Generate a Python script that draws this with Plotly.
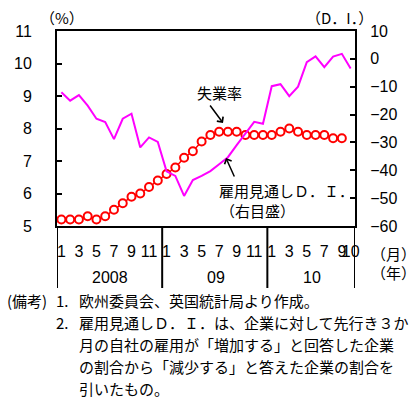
import plotly.graph_objects as go

# ---------------- data ----------------
months_index = list(range(34))  # Jan 2008 .. Oct 2010
month_tick_vals = [0, 2, 4, 6, 8, 10, 12, 14, 16, 18, 20, 22, 24, 26, 28, 30, 32, 33]
month_tick_text = ["1", "3", "5", "7", "9", "11",
                   "1", "3", "5", "7", "9", "11",
                   "1", "3", "5", "7", "9", "10"]
year_labels = ["2008", "09", "10"]

unemployment = [5.2, 5.2, 5.2, 5.3, 5.2, 5.3, 5.5, 5.7, 5.9, 6.0, 6.2, 6.4,
                6.6, 6.8, 7.1, 7.3, 7.6, 7.8, 7.9, 7.9, 7.9, 7.8, 7.8, 7.8,
                7.8, 7.9, 8.0, 7.9, 7.8, 7.8, 7.8, 7.7, 7.7]
employment_di = [-12.0, -15.0, -13.0, -16.8, -21.5, -22.7, -28.8, -21.5, -19.7, -31.8, -28.2, -29.8,
                 -40.4, -42.0, -49.2, -43.5, -42.0, -40.3, -37.8, -35.3, -31.0, -26.6, -22.6, -23.3,
                 -9.8, -9.1, -13.4, -10.0, -1.2, 0.9, -3.0, 0.8, 1.8, -3.5]

notes = [
    ("(備考)", "1.", "欧州委員会、英国統計局より作成。"),
    ("", "2.", "雇用見通しＤ．Ｉ．は、企業に対して先行き３か"),
    ("", "", "月の自社の雇用が「増加する」と回答した企業"),
    ("", "", "の割合から「減少する」と答えた企業の割合を"),
    ("", "", "引いたもの。"),
]

# ---------------- layout helpers ----------------
W, H = 417, 404
PL, PR, PT, PB = 57, 355, 31, 226
JP = "Noto Sans CJK JP"
NUM = "Liberation Sans, Arial, sans-serif"


def px(x):
    return (x - PL) / (PR - PL)


def py(y):
    return (PB - y) / (PB - PT)


fig = go.Figure()

fig.add_trace(go.Scatter(
    x=months_index[:len(unemployment)], y=unemployment, mode="lines+markers",
    line=dict(color="#FF0000", width=1.5),
    marker=dict(symbol="circle", size=8, color="white",
                line=dict(color="#FF0000", width=2)),
    yaxis="y", showlegend=False, hoverinfo="skip"))

fig.add_trace(go.Scatter(
    x=months_index, y=employment_di, mode="lines",
    line=dict(color="#FF00FF", width=2),
    yaxis="y2", showlegend=False, hoverinfo="skip"))

fig.update_layout(
    width=W, height=H,
    margin=dict(l=PL, r=W - PR, t=PT, b=H - PB),
    paper_bgcolor="white", plot_bgcolor="white",
    xaxis=dict(range=[-0.5, 33.5], showgrid=False, zeroline=False,
               showline=True, linecolor="black", linewidth=2, mirror=True,
               tickmode="array", tickvals=month_tick_vals, ticktext=month_tick_text,
               ticks="", tickangle=0, ticklabelstandoff=10,
               tickfont=dict(family=NUM, size=16, color="black")),
    yaxis=dict(range=[5, 11], dtick=1, showgrid=False, zeroline=False,
               showline=True, linecolor="black", linewidth=2,
               ticks="inside", ticklen=5, tickwidth=2, tickcolor="black",
               ticklabelstandoff=20,
               tickfont=dict(family=NUM, size=16, color="black")),
    yaxis2=dict(range=[-60, 10], dtick=10, overlaying="y", side="right",
                showgrid=False, zeroline=False,
                showline=True, linecolor="black", linewidth=2,
                ticks="inside", ticklen=5, tickwidth=2, tickcolor="black",
                ticklabelstandoff=10,
                tickfont=dict(family=NUM, size=16, color="black")),
)

# vertical divider lines in the x-axis label area
for xv in [-0.5, 11.5, 23.5, 33.5]:
    fig.add_shape(type="line", xref="x", yref="paper", x0=xv, x1=xv,
                  y0=0, y1=py(288), line=dict(color="black", width=2))

anns = []
# year labels
for lbl, cx in zip(year_labels, [110, 215.5, 311.5]):
    anns.append(dict(text=lbl, x=px(cx), y=py(277), font=dict(family=NUM, size=16)))

anns += [
    dict(text="（%）", x=px(62), y=py(17), font=dict(family=JP, size=15)),
    dict(text="（D．I．）", x=px(339), y=py(17), font=dict(family=JP, size=15)),
    dict(text="（月）", x=px(393), y=py(253), font=dict(family=JP, size=15)),
    dict(text="（年）", x=px(393), y=py(272), font=dict(family=JP, size=15)),
    dict(text="失業率", x=px(219), y=py(92), font=dict(family=JP, size=15)),
    dict(text="雇用見通しＤ．Ｉ．", x=px(286), y=py(190), font=dict(family=JP, size=15)),
    dict(text="（右目盛）", x=px(257), y=py(210), font=dict(family=JP, size=15)),
]
for a in anns:
    a.update(xref="paper", yref="paper", showarrow=False,
             xanchor="center", yanchor="middle")
    a["font"]["color"] = "black"

# arrows
arrows = [((223, 123), (209, 104)), ((226, 158), (235, 178))]
for (hx, hy), (tx, ty) in arrows:
    anns.append(dict(text="", x=px(hx), y=py(hy), xref="paper", yref="paper",
                     showarrow=True, ax=tx - hx, ay=ty - hy,
                     arrowhead=4, arrowsize=1, arrowwidth=1.5, arrowcolor="black"))

# notes
line_y = [300, 322, 344, 366, 388]
for (lab, num, txt), yy in zip(notes, line_y):
    for t, xx in [(lab, 5), (num, 54), (txt, 77)]:
        if t:
            anns.append(dict(text=t, x=px(xx), y=py(yy), xref="paper", yref="paper",
                             showarrow=False, xanchor="left", yanchor="middle",
                             font=dict(family=JP, size=15, color="black")))

fig.update_layout(annotations=anns)
fig.write_html("out.html")
